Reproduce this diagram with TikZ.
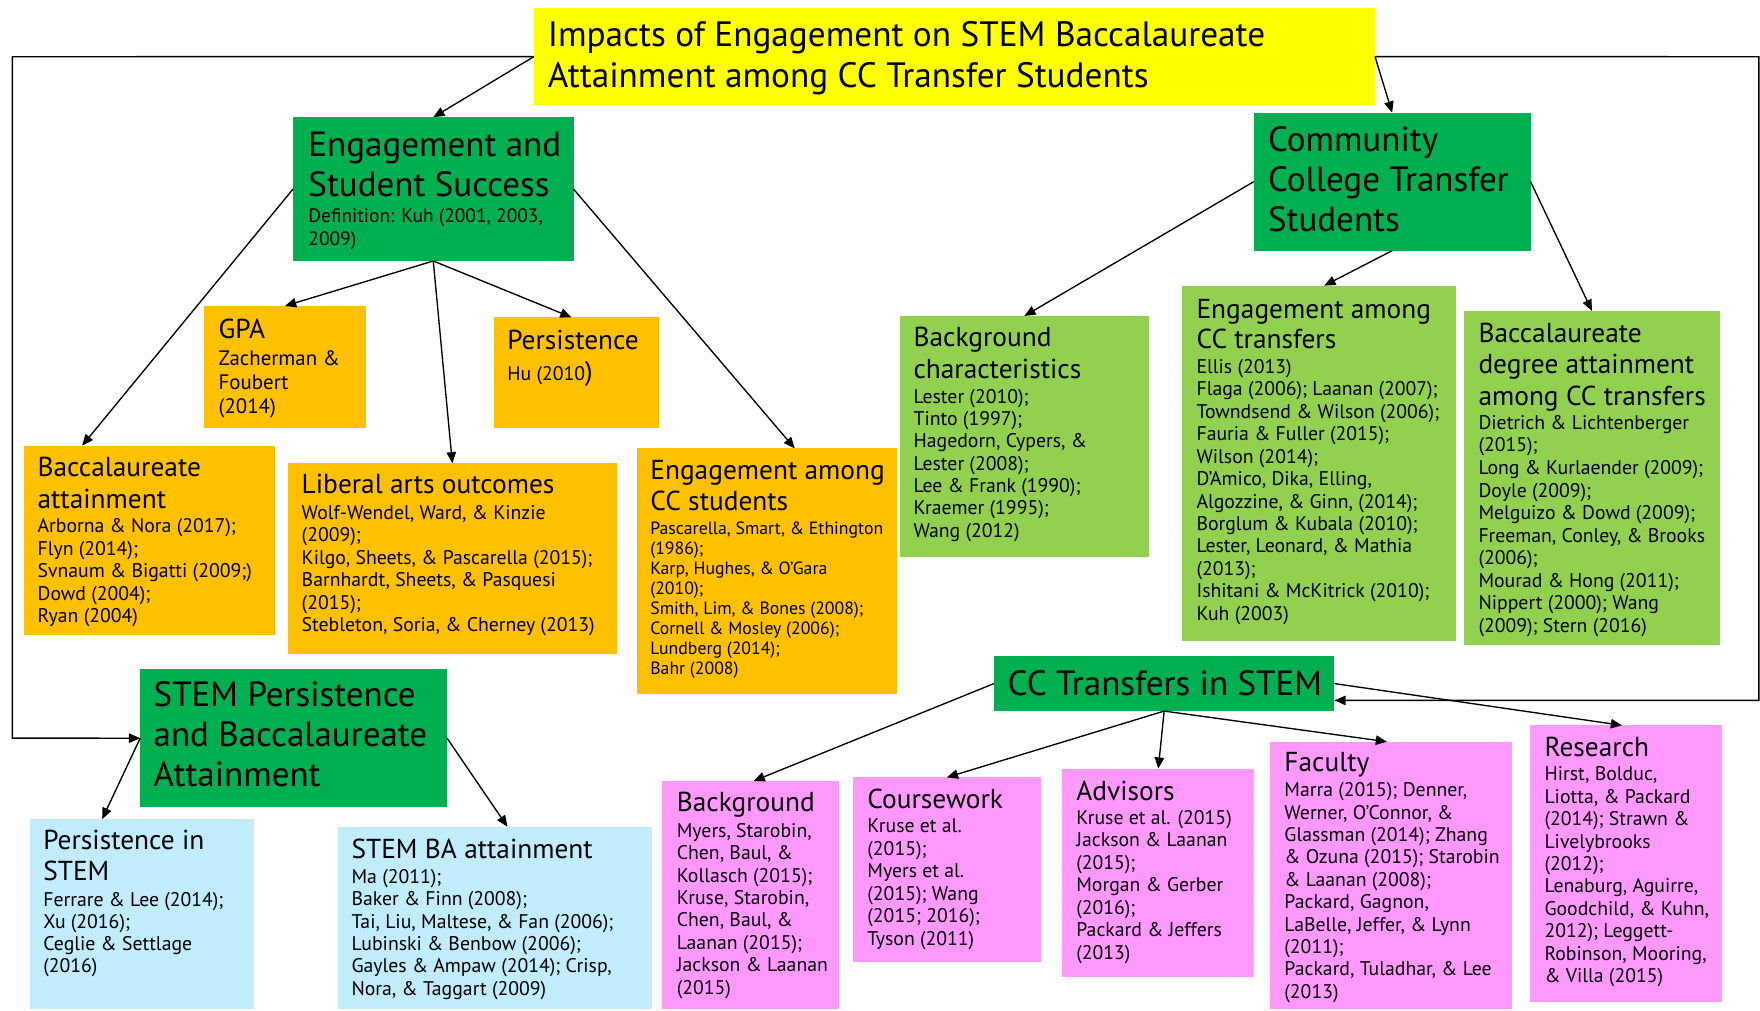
\documentclass[tikz,border=0pt]{standalone}
\usepackage{fontspec}
\setmainfont{PT Sans}
\usetikzlibrary{arrows.meta,fit,calc}
\definecolor{cyel}{HTML}{FFFF00}
\definecolor{cgrn}{HTML}{00B050}
\definecolor{corg}{HTML}{FFC000}
\definecolor{clgr}{HTML}{92D050}
\definecolor{cblu}{HTML}{C0ECFC}
\definecolor{cpnk}{HTML}{FF99FF}
\newcommand\fs[2]{\fontsize{#1}{#2}\selectfont}
\newcommand\ml[1]{\begin{tabular}[t]{@{}l@{}}#1\end{tabular}}
\begin{document}
\begin{tikzpicture}[x=0.5pt,y=-0.5pt,
  bx/.style={inner sep=0pt,outer sep=0pt,draw=none},
  arr/.style={-{Triangle[length=5pt,width=4.2pt]},line width=0.6pt,black},
  txt/.style={anchor=base west,inner sep=0pt,outer sep=0pt},
  hbig/.style={txt,font=\fs{15.6}{17.85}},
  htit/.style={txt,font=\fs{15.7}{18.1}},
  hmid/.style={txt,font=\fs{12.2}{14}},
  body/.style={txt,font=\fs{8.8}{10}},
]
\useasboundingbox (0,0) rectangle (1568,900);
\fill[white] (0,0) rectangle (1568,900);
% boxes
\node[bx,fill=cyel,fit={(475.6,7.4) (1225,93.5)}] (title) {};
\node[bx,fill=cgrn,fit={(261,104.5) (511,232.5)}] (eng) {};
\node[bx,fill=cgrn,fit={(1117,100.4) (1363.6,223.3)}] (comm) {};
\node[bx,fill=corg,fit={(182,272.6) (325.8,381.6)}] (gpa) {};
\node[bx,fill=corg,fit={(439.7,282.7) (587.4,381.6)}] (pers) {};
\node[bx,fill=corg,fit={(21.1,397) (244.8,565.7)}] (bacc) {};
\node[bx,fill=corg,fit={(256.5,412.8) (549.5,583)}] (lib) {};
\node[bx,fill=corg,fit={(567.3,399.5) (799.2,618.6)}] (ccstu) {};
\node[bx,fill=clgr,fit={(801.9,281.5) (1023.3,496)}] (bgc) {};
\node[bx,fill=clgr,fit={(1053,254.5) (1296.8,571)}] (engtr) {};
\node[bx,fill=clgr,fit={(1304.5,277) (1532,575)}] (bdeg) {};
\node[bx,fill=cgrn,fit={(885.5,584.5) (1188.8,633.5)}] (ccstem) {};
\node[bx,fill=cgrn,fit={(124.9,596) (398.3,719.3)}] (stemp) {};
\node[bx,fill=cblu,fit={(26.3,729.7) (226.1,899)}] (pis) {};
\node[bx,fill=cblu,fit={(301.2,736.5) (580.6,899)}] (stemba) {};
\node[bx,fill=cpnk,fit={(590.2,695.8) (747.8,899)}] (pbg) {};
\node[bx,fill=cpnk,fit={(760,692.6) (927,856.8)}] (course) {};
\node[bx,fill=cpnk,fit={(946.5,684.8) (1117.3,870.2)}] (adv) {};
\node[bx,fill=cpnk,fit={(1131.7,660.8) (1347,899)}] (fac) {};
\node[bx,fill=cpnk,fit={(1363.5,646.2) (1534.2,892.5)}] (res) {};
% texts
\node[htit] (t1) at (488,41.6) {\ml{Impacts of Engagement on STEM Baccalaureate\\Attainment among CC Transfer Students}};
\node[hbig] (t2) at (274.8,139) {\ml{Engagement and\\Student Success}};
\node[body,font=\fs{8.65}{10}] (t2b) at (274.8,198.4) {\ml{Definition: Kuh (2001, 2003,\\2009)}};
\node[hbig] (t3) at (1129.7,135) {\ml{Community\\College Transfer\\Students}};
\node[hmid] (t4) at (194.8,301.4) {\ml{GPA}};
\node[body,font=\fs{9.3}{10.8}] (t4b) at (194.8,325.2) {\ml{Zacherman \&\\Foubert\\(2014)}};
\node[hmid] (t5) at (452,311.8) {\ml{Persistence}};
\node[body] (t5b) at (452,338.6) {Hu (2010{\fs{12}{14})}};
\node[hmid,font=\fs{12.2}{14.1}] (t6) at (33.5,424.7) {\ml{Baccalaureate\\attainment}};
\node[body] (t6b) at (33.5,474.6) {\ml{Arborna \& Nora (2017);\\Flyn (2014);\\Svnaum \& Bigatti (2009;)\\Dowd (2004);\\Ryan (2004)}};
\node[hmid] (t7) at (268.8,440.1) {\ml{Liberal arts outcomes}};
\node[body] (t7b) at (268.8,462.7) {\ml{Wolf-Wendel, Ward, \& Kinzie\\(2009);\\Kilgo, Sheets, \& Pascarella (2015);\\Barnhardt, Sheets, \& Pasquesi\\(2015);\\Stebleton, Soria, \& Cherney (2013)}};
\node[hmid,font=\fs{12.2}{13.8}] (t8) at (579.4,426.8) {\ml{Engagement among\\CC students}};
\node[body,font=\fs{7.9}{8.95}] (t8b) at (579.4,475.8) {\ml{Pascarella, Smart, \& Ethington\\(1986);\\Karp, Hughes, \& O’Gara\\(2010);\\Smith, Lim, \& Bones (2008);\\Cornell \& Mosley (2006);\\Lundberg (2014);\\Bahr (2008)}};
\node[hmid,font=\fs{12.2}{14.1}] (t9) at (813.9,308.9) {\ml{Background\\characteristics}};
\node[body,font=\fs{8.8}{9.95}] (t9b) at (813.9,359.3) {\ml{Lester (2010);\\Tinto (1997);\\Hagedorn, Cypers, \&\\Lester (2008);\\Lee \& Frank (1990);\\Kraemer (1995);\\Wang (2012)}};
\node[hmid,font=\fs{12.2}{13.65}] (t10) at (1066,283.6) {\ml{Engagement among\\CC transfers}};
\node[body] (t10b) at (1066,332.6) {\ml{Ellis (2013)\\Flaga (2006); Laanan (2007);\\Towndsend \& Wilson (2006);\\Fauria \& Fuller (2015);\\Wilson (2014);\\D’Amico, Dika, Elling,\\Algozzine, \& Ginn, (2014);\\Borglum \& Kubala (2010);\\Lester, Leonard, \& Mathia\\(2013);\\Ishitani \& McKitrick (2010);\\Kuh (2003)}};
\node[hmid,font=\fs{12.2}{13.9}] (t11) at (1317.2,305.3) {\ml{Baccalaureate\\degree attainment\\among CC transfers}};
\node[body,font=\fs{8.8}{10.05}] (t11b) at (1317.2,382.5) {\ml{Dietrich \& Lichtenberger\\(2015);\\Long \& Kurlaender (2009);\\Doyle (2009);\\Melguizo \& Dowd (2009);\\Freeman, Conley, \& Brooks\\(2006);\\Mourad \& Hong (2011);\\Nippert (2000); Wang\\(2009); Stern (2016)}};
\node[hbig] (t12) at (897.8,619.2) {\ml{CC Transfers in STEM}};
\node[hbig] (t13) at (136.9,629.6) {\ml{STEM Persistence\\and Baccalaureate\\Attainment}};
\node[hmid,font=\fs{12.2}{13.65}] (t14) at (38.6,756.7) {\ml{Persistence in\\STEM}};
\node[body,font=\fs{8.8}{9.9}] (t14b) at (38.6,807.2) {\ml{Ferrare \& Lee (2014);\\Xu (2016);\\Ceglie \& Settlage\\(2016)}};
\node[hmid] (t15) at (313.2,764.7) {\ml{STEM BA attainment}};
\node[body,font=\fs{8.8}{9.95}] (t15b) at (313.2,787) {\ml{Ma (2011);\\Baker \& Finn (2008);\\Tai, Liu, Maltese, \& Fan (2006);\\Lubinski \& Benbow (2006);\\Gayles \& Ampaw (2014); Crisp,\\Nora, \& Taggart (2009)}};
\node[hmid] (t16) at (603,723.2) {\ml{Background}};
\node[body,font=\fs{8.8}{9.98}] (t16b) at (603,746) {\ml{Myers, Starobin,\\Chen, Baul, \&\\Kollasch (2015);\\Kruse, Starobin,\\Chen, Baul, \&\\Laanan (2015);\\Jackson \& Laanan\\(2015)}};
\node[hmid] (t17) at (772.8,720.2) {\ml{Coursework}};
\node[body] (t17b) at (772.8,741.9) {\ml{Kruse et al.\\(2015);\\Myers et al.\\(2015); Wang\\(2015; 2016);\\Tyson (2011)}};
\node[hmid] (t18) at (958.9,712.8) {\ml{Advisors}};
\node[body,font=\fs{8.8}{10.05}] (t18b) at (958.9,734.1) {\ml{Kruse et al. (2015)\\Jackson \& Laanan\\(2015);\\Morgan \& Gerber\\(2016);\\Packard \& Jeffers\\(2013)}};
\node[hmid] (t19) at (1144.3,687.5) {\ml{Faculty}};
\node[body,font=\fs{8.8}{9.98}] (t19b) at (1144.3,709.8) {\ml{Marra (2015); Denner,\\Werner, O’Connor, \&\\Glassman (2014); Zhang\\\& Ozuna (2015); Starobin\\\& Laanan (2008);\\Packard, Gagnon,\\LaBelle, Jeffer, \& Lynn\\(2011);\\Packard, Tuladhar, \& Lee\\(2013)}};
\node[hmid] (t20) at (1376,673.6) {\ml{Research}};
\node[body] (t20b) at (1376,695.5) {\ml{Hirst, Bolduc,\\Liotta, \& Packard\\(2014); Strawn \&\\Livelybrooks\\(2012);\\Lenaburg, Aguirre,\\Goodchild, \& Kuhn,\\2012); Leggett-\\Robinson, Mooring,\\\& Villa (2015)}};
% connectors
\coordinate (L1) at (11,50.5);
\coordinate (L2) at (11,657.6);
\coordinate (R1) at (1567,50.5);
\coordinate (R2) at (1567,624);
\draw[arr] (title.west) -- (eng.north);
\draw[arr] (title.west) -- (L1) -- (L2) -- (stemp.west);
\draw[arr] (title.east) -- (comm.north);
\draw[arr] (title.east) -- (R1) -- (R2) -- (ccstem.east |- R2);
\draw[arr] (eng.west) -- ($(bacc.north west)!0.233!(bacc.north east)$);
\draw[arr] (eng.south) -- (gpa.north);
\draw[arr] (eng.south) -- (lib.north);
\draw[arr] (eng.south) -- ($(pers.north west)!0.47!(pers.north east)$);
\draw[arr] (eng.east) -- ($(ccstu.north west)!0.607!(ccstu.north east)$);
\draw[arr] (comm.west) -- (bgc.north);
\draw[arr] (comm.south) -- ($(engtr.north west)!0.52!(engtr.north east)$);
\draw[arr] (comm.east) -- (bdeg.north);
\draw[arr] (stemp.west) -- ($(pis.north west)!0.324!(pis.north east)$);
\draw[arr] (stemp.east) -- ($(stemba.north west)!0.54!(stemba.north east)$);
\draw[arr] (ccstem.west) -- ($(pbg.north west)!0.515!(pbg.north east)$);
\draw[arr] (ccstem.south) -- (course.north);
\draw[arr] (ccstem.south) -- (adv.north);
\draw[arr] (ccstem.south) -- ($(fac.north west)!0.483!(fac.north east)$);
\draw[arr] (ccstem.east) -- ($(res.north west)!0.478!(res.north east)$);
\end{tikzpicture}
\end{document}
